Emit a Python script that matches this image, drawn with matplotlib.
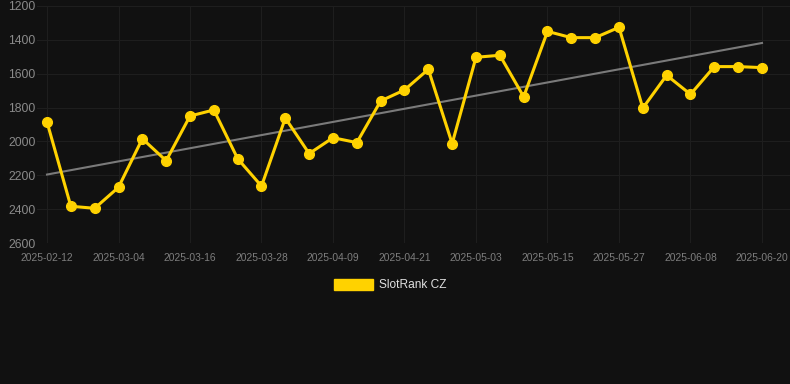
import numpy as np
import matplotlib
matplotlib.use("Agg")
import matplotlib.pyplot as plt
from matplotlib.patches import Patch

# ── Data ─────────────────────────────────────────────────────────────────────
tick_labels = ["2025-02-12", "2025-03-04", "2025-03-16", "2025-03-28", "2025-04-09",
               "2025-04-21", "2025-05-03", "2025-05-15", "2025-05-27", "2025-06-08",
               "2025-06-20"]
rank = [1885, 2383, 2395, 2271, 1984, 2114, 1850, 1814, 2102, 2264,
        1862, 2072, 1978, 2007, 1761, 1696, 1574, 2013, 1503, 1491,
        1736, 1350, 1387, 1387, 1326, 1803, 1609, 1722, 1558, 1558, 1564]
series_name = "SlotRank CZ"

# ── Style ────────────────────────────────────────────────────────────────────
plt.rcParams["font.family"] = ["Liberation Sans", "DejaVu Sans"]
BG = "#111111"
GOLD = "#FFD200"

fig = plt.figure(figsize=(7.9, 3.84), dpi=100, facecolor=BG)
ax = fig.add_axes([37 / 790, 1 - 243 / 384, 753 / 790, 237 / 384], facecolor=BG)

x = np.arange(len(rank))
y = np.array(rank, dtype=float)

# trend line (linear fit)
m, b = np.polyfit(x, y, 1)
ax.plot(x, m * x + b, color="#7a7a7a", linewidth=1.5, zorder=2)

ax.plot(x, y, color=GOLD, linewidth=2.2, marker="o", markersize=7,
        markerfacecolor=GOLD, markeredgecolor=GOLD, zorder=3)

ax.set_ylim(2600, 1200)
ax.set_yticks([1200, 1400, 1600, 1800, 2000, 2200, 2400, 2600])
ax.set_xlim(-10 / 23.83, len(rank) - 1 + 28 / 23.83)
ax.set_xticks(x[::3])
ax.set_xticklabels(tick_labels)

ax.grid(True, color="#1e1e1e", linewidth=0.8)
for s in ax.spines.values():
    s.set_visible(False)
ax.tick_params(axis="y", length=0, pad=1, labelsize=8.7, labelcolor="#8a8a8a")
ax.tick_params(axis="x", length=0, pad=7, labelsize=7.4, labelcolor="#7e7e7e")

handles = [Patch(facecolor=GOLD, edgecolor=GOLD, label=series_name)]
fig.legend(handles=handles, loc="center", bbox_to_anchor=(390 / 790, 1 - 285 / 384),
           frameon=False, fontsize=8.6, labelcolor="#e0e0e0",
           handlelength=3.3, handleheight=1.1, handletextpad=0.5)

fig.savefig("out.png", dpi=100, facecolor=BG)
